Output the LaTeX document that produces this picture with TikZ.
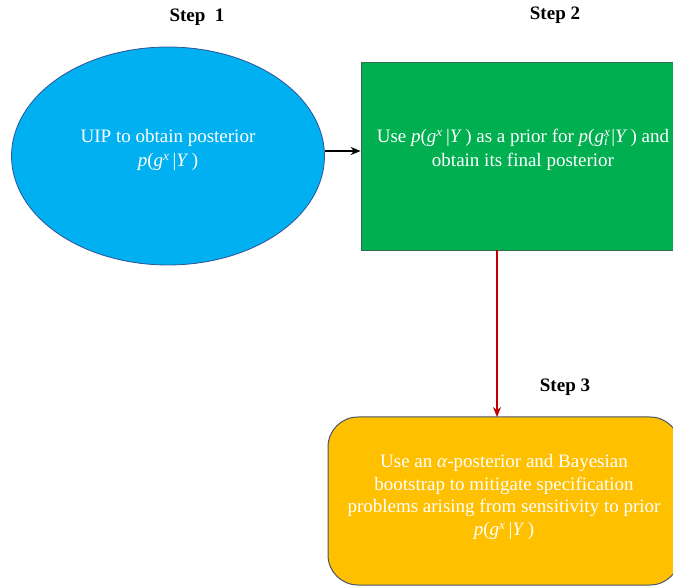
\documentclass[tikz,border=0pt]{standalone}
\usepackage{fontspec}
\setmainfont{Liberation Serif}
\usetikzlibrary{shapes.geometric,arrows.meta}
\definecolor{bluefill}{HTML}{00B0F0}
\definecolor{blueline}{HTML}{2F5597}
\definecolor{greenfill}{HTML}{00B050}
\definecolor{greenline}{HTML}{2F6B4F}
\definecolor{yellowfill}{HTML}{FFC000}
\definecolor{yellowline}{HTML}{44546A}
\definecolor{redarrow}{HTML}{C00000}
\newcommand{\pgx}{\textit{p}(\textit{g}\textsuperscript{\itshape x}\,|\textit{Y}\,)}
\newcommand{\pgix}{\textit{p}(\textit{g}\makebox[0pt][l]{\textsuperscript{\itshape x}}\textsubscript{\itshape i}\,|\textit{Y}\,)}
\begin{document}
\begin{tikzpicture}[x=1pt,y=1pt,
  steplabel/.style={font=\bfseries\fontsize{19}{22}\selectfont, inner sep=0pt},
  bodytext/.style={text=white, align=center, font=\fontsize{19}{24}\selectfont},
  conn/.style={-{Stealth[length=10pt,width=8pt]}, line width=1.6pt}
]
\useasboundingbox (0,0) rectangle (673,-588);
\clip (0,0) rectangle (673,-588);
\node[ellipse, draw=blueline, line width=0.8pt, fill=bluefill, minimum width=313pt, minimum height=218pt, inner sep=0pt] (s1) at (168,-156) {};
\node[bodytext] (s1t) at (168,-150) {UIP to obtain posterior\\\pgx};
\node[rectangle, draw=greenline, line width=0.8pt, fill=greenfill, minimum width=324pt, minimum height=188pt, inner sep=0pt] (s2) at (523,-156) {};
\node[bodytext] (s2t) at (523,-150) {Use \pgx{} as a prior for \pgix{} and\\obtain its final posterior};
\node[rectangle, rounded corners=30pt, draw=yellowline, line width=1pt, fill=yellowfill, minimum width=352pt, minimum height=168pt, inner sep=0pt] (s3) at (504,-501) {};
\node[bodytext, font=\fontsize{19}{22.5}\selectfont] (s3t) at (504,-497) {Use an \textit{α}-posterior and Bayesian\\bootstrap to mitigate specification\\problems arising from sensitivity to prior\\\pgx};
\node[steplabel] (l1) at (197,-17) {Step\ \ 1};
\node[steplabel] (l2) at (555,-15) {Step 2};
\node[steplabel] (l3) at (565,-387) {Step 3};
\draw[conn, black] (s1.east |- 0,-151) -- (s2.west |- 0,-151);
\draw[conn, redarrow, line width=1.2pt] (497,-250) -- (497,-417);
\end{tikzpicture}
\end{document}
